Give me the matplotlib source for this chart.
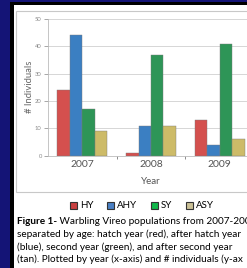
import matplotlib
matplotlib.use('Agg')
import matplotlib.pyplot as plt
from matplotlib.patches import Rectangle, Patch
import numpy as np

# data
years = ['2007', '2008', '2009']
age_classes = ['HY', 'AHY', 'SY', 'ASY']
hy = [24, 1, 13]
ahy = [44, 11, 4]
sy = [17, 37, 41]
asy = [9, 11, 6]
yticks = [0, 10, 20, 30, 40, 50]

bar_colors = ['#d4504e', '#3b7fc2', '#2e9557', '#cdbb68']
legend_colors = ['#c94040', '#4a80c4', '#10b84a', '#cbc197']

# caption as it shows on the (cropped) poster
caption = [
    ('Figure 1-', ' Warbling Vireo populations from 2007-200'),
    ('', 'separated by age: hatch year (red), after hatch year'),
    ('', '(blue), second year (green), and after second year'),
    ('', '(tan). Plotted by year (x-axis) and # individuals (y-ax'),
]

W, H = 247, 268
fig = plt.figure(figsize=(W / 100, H / 100), dpi=100)
fig.patch.set_facecolor('#141476')
plt.rcParams['font.family'] = ['Lato', 'DejaVu Sans']


def px(x, y, w, h):
    # pixel box (top-left origin) -> figure fraction
    return [x / W, 1 - (y + h) / H, w / W, h / H]


# black frame, white poster panel, grey chart frame
fig.patches.append(Rectangle((10 / W, 0), 1, 1 - 2 / H, transform=fig.transFigure,
                             facecolor='black', edgecolor='none', zorder=-3))
fig.patches.append(Rectangle((14 / W, 0), 1, 1 - 5 / H, transform=fig.transFigure,
                             facecolor='white', edgecolor='none', zorder=-2))
fig.patches.append(Rectangle((16 / W, 1 - 192 / H), 1, (192 - 11) / H, transform=fig.transFigure,
                             facecolor='white', edgecolor='#c8c8c8', linewidth=0.8, zorder=-1))

ax = fig.add_axes(px(48, 19, 206, 136.7))
ax.set_facecolor('none')

x = np.arange(len(years))
w = 0.182
series = [hy, ahy, sy, asy]
for i, vals in enumerate(series):
    ax.bar(x + (i - 1.5) * w, vals, width=w, color=bar_colors[i],
           edgecolor='#7a7a7a', linewidth=0.3, zorder=3)

ax.set_xlim(-0.5, 2.5)
ax.set_ylim(0, 50)
ax.set_yticks(yticks)
ax.set_yticklabels([str(v) for v in yticks], fontsize=4.2, color='#8a8a8a')
ax.yaxis.grid(True, color='#d0d0d0', linewidth=0.6, zorder=0)
ax.set_xticks(x)
ax.set_xticklabels(years, fontsize=7.5, color='#555555')
ax.set_xticks([0.5, 1.5], minor=True)
ax.tick_params(axis='x', which='major', length=0, pad=3)
ax.tick_params(axis='x', which='minor', length=2, color='#777777', width=0.6)
ax.tick_params(axis='y', length=3, color='#999999', width=0.6, pad=1.5)
for s in ['top', 'right']:
    ax.spines[s].set_visible(False)
ax.spines['left'].set_color('#bbbbbb')
ax.spines['left'].set_linewidth(0.6)
ax.spines['bottom'].set_color('#bbbbbb')
ax.spines['bottom'].set_linewidth(0.6)

fig.text(30 / W, 1 - 87 / H, '# Individuals', rotation=90, fontsize=6.8,
         color='#666666', ha='center', va='center')
fig.text(151 / W, 1 - 182 / H, 'Year', fontsize=7, color='#555555',
         ha='center', va='center')

handles = [Patch(facecolor=c, edgecolor='#333333', linewidth=0.8) for c in legend_colors]
fig.legend(handles, age_classes, loc='center', bbox_to_anchor=(142 / W, 1 - 206 / H),
           ncol=4, frameon=False, fontsize=7, handlelength=0.75, handleheight=0.75,
           handletextpad=0.3, columnspacing=1.4, borderpad=0)

# caption with bold lead-in
fig.canvas.draw()
renderer = fig.canvas.get_renderer()
x0 = 16.5
for k, (bold, rest) in enumerate(caption):
    yy = 1 - (221.5 + k * 12.7) / H
    xx = x0 / W
    if bold:
        t = fig.text(xx, yy, bold, fontsize=7.2, fontweight='bold', color='black',
                     va='center', ha='left')
        bb = t.get_window_extent(renderer)
        xx = bb.x1 / W
    fig.text(xx, yy, rest, fontsize=7.2, color='black', va='center', ha='left')

fig.savefig('out.png', dpi=100, facecolor=fig.get_facecolor())
